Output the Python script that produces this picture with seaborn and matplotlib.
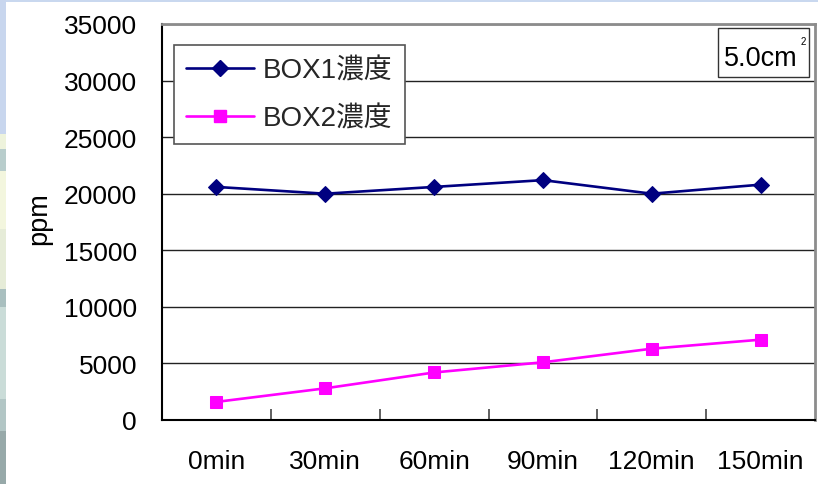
import matplotlib
matplotlib.use("Agg")
import matplotlib.pyplot as plt
from matplotlib.patches import Rectangle
from matplotlib.lines import Line2D
import seaborn as sns
import pandas as pd

# Sampling times and measured concentrations (ppm)
times = ["0min", "30min", "60min", "90min", "120min", "150min"]
box1 = [20600, 20000, 20600, 21200, 20000, 20800]
box2 = [1600, 2800, 4200, 5100, 6300, 7100]
series_names = ["BOX1濃度", "BOX2濃度"]
y_ticks = [0, 5000, 10000, 15000, 20000, 25000, 30000, 35000]
area_text = "5.0cm"
area_sup = "2"

colors = {"BOX1濃度": "#000080", "BOX2濃度": "#FF00FF"}
markers = {"BOX1濃度": "D", "BOX2濃度": "s"}
msizes = {"BOX1濃度": 8, "BOX2濃度": 9}

df = pd.DataFrame({
    "time": times * 2,
    "ppm": box1 + box2,
    "series": [series_names[0]] * len(times) + [series_names[1]] * len(times),
})

sns.set_theme(style="white")
plt.rcParams["font.family"] = ["Liberation Sans", "Noto Sans CJK JP", "DejaVu Sans"]

W, H = 818, 485
fig = plt.figure(figsize=(W / 100, H / 100), dpi=100)
fig.patch.set_facecolor("white")


def px_rect(x0, y0, x1, y1, color):
    """Figure-level rectangle given in pixel coordinates measured from the top-left."""
    fig.patches.append(Rectangle((x0 / W, 1 - y1 / H), (x1 - x0) / W, (y1 - y0) / H,
                                 transform=fig.transFigure, facecolor=color,
                                 edgecolor="none", zorder=0))


# slide backdrop: pale blue band on top, tinted strip down the left edge
px_rect(0, 0, W, 3, "#c9d8ef")
for y0, y1, c in [(0, 135, "#c8d6ee"), (135, 150, "#eef3dc"), (150, 172, "#b8cdcc"),
                  (172, 230, "#f3f6de"), (230, 290, "#e6ecd8"), (290, 308, "#a9bfbf"),
                  (308, 400, "#cadcd8"), (400, 432, "#b2c6c5"), (432, 485, "#97a9a9")]:
    px_rect(0, y0, 6, y1, c)

ax = fig.add_axes([162 / W, 1 - 421 / H, (815 - 162) / W, (421 - 25) / H])
ax.set_facecolor("white")

for name in series_names:
    sub = df[df["series"] == name]
    sns.lineplot(data=sub, x="time", y="ppm", ax=ax, color=colors[name],
                 marker=markers[name], markersize=msizes[name],
                 markeredgecolor=colors[name], linewidth=1.9,
                 legend=False, sort=False, zorder=5)

ax.set_xlim(-0.5, len(times) - 0.5)
ax.set_ylim(0, 35000)
ax.set_yticks(y_ticks)
ax.set_yticklabels([str(v) for v in y_ticks], fontsize=19)
ax.set_xticks(range(len(times)))
ax.set_xticklabels(times, fontsize=19)
ax.set_xticks([i + 0.5 for i in range(len(times) - 1)], minor=True)
ax.tick_params(axis="x", which="major", length=0, pad=21, colors="black")
ax.tick_params(axis="x", which="minor", direction="in", length=8, width=1.2,
               color="#444444", bottom=True)
ax.tick_params(axis="y", which="both", length=0, pad=18, colors="black")
ax.set_xlabel("")
ax.set_ylabel("")

ax.yaxis.grid(True, color="#222222", linewidth=1.0)
ax.xaxis.grid(False)
ax.set_axisbelow(True)

for side in ["left", "bottom"]:
    ax.spines[side].set_color("black")
    ax.spines[side].set_linewidth(1.5)
for side in ["top", "right"]:
    ax.spines[side].set_visible(True)
    ax.spines[side].set_color("#8c8c8c")
    ax.spines[side].set_linewidth(2.0)

ax.text(-0.188, 0.51, "ppm", transform=ax.transAxes, rotation=90,
        ha="center", va="center", fontsize=19.5, color="black")

handles = [Line2D([], [], color=colors[n], marker=markers[n], markersize=msizes[n],
                  markeredgecolor=colors[n], linewidth=1.9) for n in series_names]
leg = ax.legend(handles, series_names, loc="upper left",
                bbox_to_anchor=(0.018, 0.947), borderaxespad=0, fontsize=20,
                frameon=True, fancybox=False, handlelength=2.45, handletextpad=0.3,
                labelspacing=0.8, borderpad=0.45)
leg.get_frame().set_edgecolor("#555555")
leg.get_frame().set_linewidth(1.2)
leg.get_frame().set_facecolor("white")
leg.get_frame().set_alpha(1)


def ax_x(px):
    return (px - 162) / (815 - 162)


def ax_y(py):
    return (421 - py) / (421 - 25)


# area annotation box in the upper right corner
ax.add_patch(Rectangle((ax_x(718), ax_y(78)), ax_x(809) - ax_x(718), ax_y(29) - ax_y(78),
                       transform=ax.transAxes, facecolor="white", edgecolor="#333333",
                       linewidth=1.0, zorder=6))
ax.text(ax_x(724), ax_y(66), area_text, transform=ax.transAxes, ha="left",
        va="baseline", fontsize=19.5, color="black", zorder=7)
ax.text(ax_x(801), ax_y(45), area_sup, transform=ax.transAxes, ha="left",
        va="baseline", fontsize=7, color="black", zorder=7)

fig.savefig("out.png", dpi=100)
